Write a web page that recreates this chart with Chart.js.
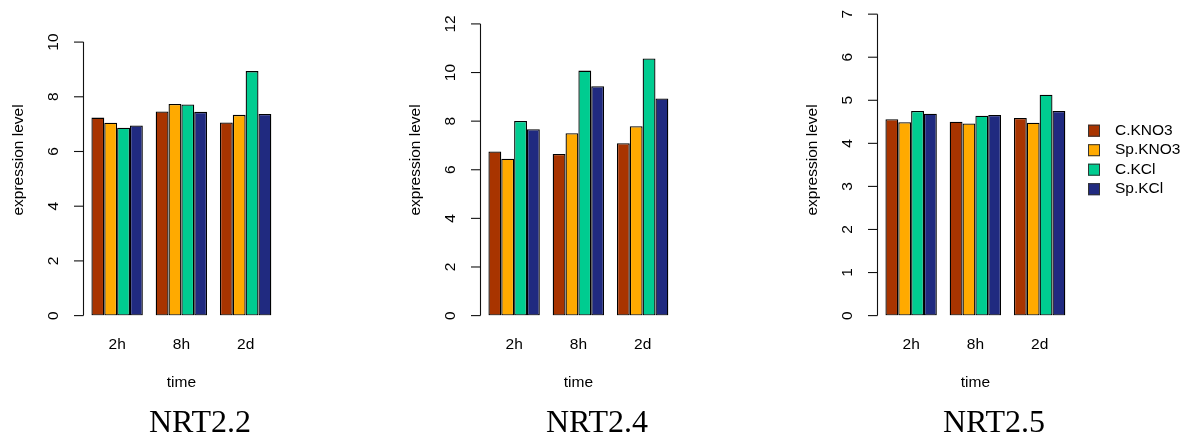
<!DOCTYPE html>
<html>
<head>
<meta charset="utf-8">
<title>NRT2 expression</title>
<script src="https://cdn.jsdelivr.net/npm/chart.js@4.4.1/dist/chart.umd.min.js"></script>
<style>
  body { margin: 0; background: #fff; }
  #wrap { position: relative; width: 1191px; height: 438px; }
  .panel { position: absolute; top: 0; width: 397px; height: 438px; }
</style>
</head>
<body>
<div id="wrap">
  <div class="panel" style="left:0px"><canvas id="nrt22" width="397" height="438"></canvas></div>
  <div class="panel" style="left:397px"><canvas id="nrt24" width="397" height="438"></canvas></div>
  <div class="panel" style="left:794px"><canvas id="nrt25" width="397" height="438"></canvas></div>
</div>
<script>
// time points and treatments
const timepoints = ['2h', '8h', '2d'];
const treatments = ['C.KNO3', 'Sp.KNO3', 'C.KCl', 'Sp.KCl'];

// expression level per treatment (rows) and time point (columns)
const nrt22Values = [
    [7.24, 7.46, 7.06],
    [7.05, 7.74, 7.34],
    [6.87, 7.72, 8.94],
    [6.95, 7.45, 7.37]
];
const nrt24Values = [
    [6.75, 6.65, 7.09],
    [6.45, 7.50, 7.79],
    [8.01, 10.08, 10.58],
    [7.67, 9.44, 8.93]
];
const nrt25Values = [
    [4.56, 4.50, 4.59],
    [4.49, 4.46, 4.48],
    [4.75, 4.64, 5.13],
    [4.69, 4.66, 4.75]
];

// y tick labels of each panel
const nrt22Ticks = [0, 2, 4, 6, 8, 10];
const nrt24Ticks = [0, 2, 4, 6, 8, 10, 12];
const nrt25Ticks = [0, 1, 2, 3, 4, 5, 6, 7];

const treatmentColors = ['#A83400', '#FFAA00', '#00CC90', '#202A80'];
const labelFont = '15.5px "Liberation Sans", Arial, sans-serif';

// base-graphics style axes, labels and title drawn on top of the bars
const baseAxes = {
    id: 'baseAxes',
    afterDraw(chart, args, opts) {
        const ctx = chart.ctx;
        const area = chart.chartArea;
        const xs = chart.scales.x;
        const ys = chart.scales.y;
        const axisX = Math.round(area.left - 1.7) + 0.5;
        const ticks = opts.ticks;

        ctx.save();
        ctx.strokeStyle = '#111';
        ctx.lineWidth = 1.1;
        ctx.beginPath();
        ctx.moveTo(axisX, ys.getPixelForValue(ticks[0]));
        ctx.lineTo(axisX, ys.getPixelForValue(ticks[ticks.length - 1]));
        ctx.stroke();

        ctx.font = labelFont;
        ctx.fillStyle = '#000';
        ctx.textAlign = 'center';
        ctx.textBaseline = 'middle';
        ticks.forEach(t => {
            const y = ys.getPixelForValue(t);
            ctx.beginPath();
            ctx.moveTo(axisX, y);
            ctx.lineTo(axisX - 9.5, y);
            ctx.stroke();
            ctx.save();
            ctx.translate(axisX - 30, y);
            ctx.rotate(-Math.PI / 2);
            ctx.fillText(String(t), 0, 0);
            ctx.restore();
        });

        // y axis title
        ctx.save();
        ctx.translate(axisX - 65, 160);
        ctx.rotate(-Math.PI / 2);
        ctx.fillText('expression level', 0, 0);
        ctx.restore();

        // group labels and x axis title
        chart.data.labels.forEach((lab, i) => {
            ctx.fillText(lab, xs.getPixelForValue(i), 345);
        });
        ctx.fillText('time', (area.left + area.right) / 2, 383);

        // gene name
        ctx.font = '32px "Liberation Serif", "Times New Roman", serif';
        ctx.textBaseline = 'alphabetic';
        ctx.fillText(opts.gene, 200, 432);

        // legend
        if (opts.legend) {
            ctx.font = labelFont;
            ctx.textAlign = 'left';
            ctx.textBaseline = 'middle';
            chart.data.datasets.forEach((ds, i) => {
                const y = 130.7 + i * 19.5;
                ctx.fillStyle = ds.backgroundColor;
                ctx.fillRect(294, y - 6, 12, 12);
                ctx.strokeStyle = '#333';
                ctx.lineWidth = 1;
                ctx.strokeRect(294.5, y - 5.5, 11, 11);
                ctx.fillStyle = '#000';
                ctx.fillText(ds.label, 321, y);
            });
        }
        ctx.restore();
    }
};

function makePanel(id, gene, values, ticks, yMax, legend) {
    return new Chart(document.getElementById(id), {
        type: 'bar',
        data: {
            labels: timepoints,
            datasets: treatments.map((name, i) => ({
                label: name,
                data: values[i],
                backgroundColor: treatmentColors[i],
                borderColor: '#000',
                borderWidth: 1.3,
                borderSkipped: false,
                barPercentage: 1,
                categoryPercentage: 0.8
            }))
        },
        options: {
            responsive: false,
            animation: false,
            devicePixelRatio: 1,
            layout: {
                padding: { left: 85, right: 119.25, top: 12, bottom: 122.4 }
            },
            scales: {
                x: { display: false, offset: true },
                y: { display: false, min: 0, max: yMax }
            },
            plugins: {
                legend: { display: false },
                tooltip: { enabled: false },
                baseAxes: { gene: gene, ticks: ticks, legend: legend }
            }
        },
        plugins: [baseAxes]
    });
}

makePanel('nrt22', 'NRT2.2', nrt22Values, nrt22Ticks, 11.1, false);
makePanel('nrt24', 'NRT2.4', nrt24Values, nrt24Ticks, 12.49, false);
makePanel('nrt25', 'NRT2.5', nrt25Values, nrt25Ticks, 7.05, true);
</script>
</body>
</html>
